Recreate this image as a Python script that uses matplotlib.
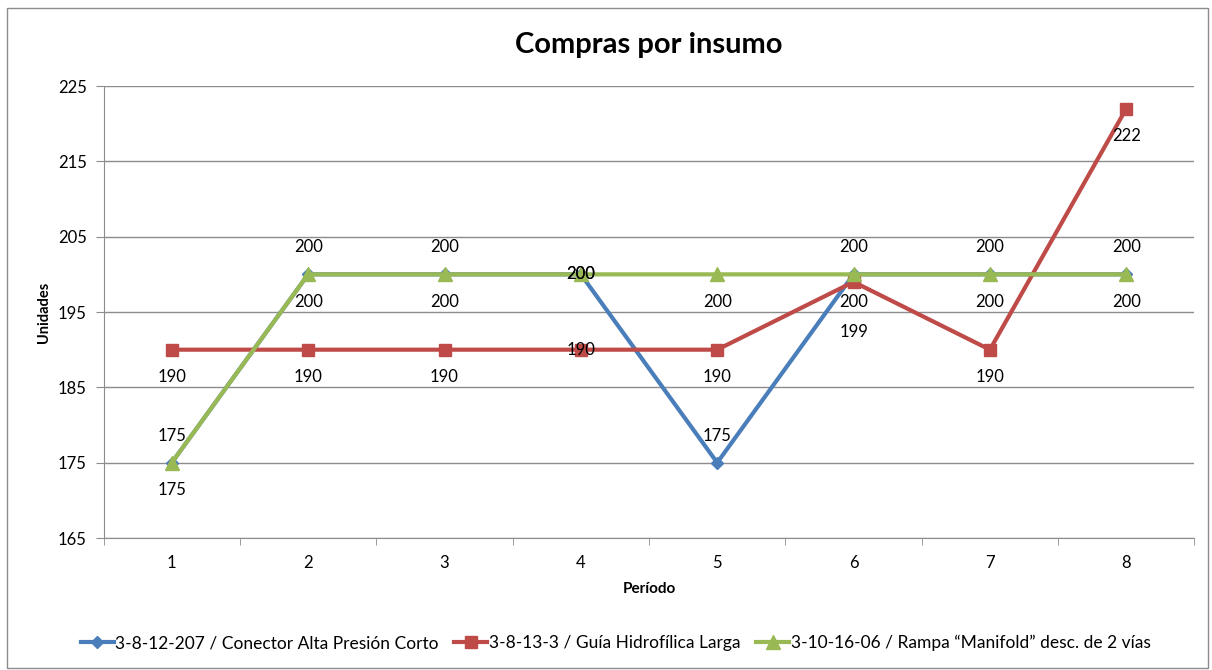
import matplotlib
matplotlib.use("Agg")
import matplotlib.pyplot as plt
from matplotlib.patches import Rectangle

plt.rcParams['font.family'] = ['Lato', 'DejaVu Sans']

periods = [1, 2, 3, 4, 5, 6, 7, 8]
blue_vals = [175, 200, 200, 200, 175, 200, 200, 200]
red_vals = [190, 190, 190, 190, 190, 199, 190, 222]
green_vals = [175, 200, 200, 200, 200, 200, 200, 200]
series_names = ["3-8-12-207 / Conector Alta Presión Corto",
                "3-8-13-3 / Guía Hidrofílica Larga",
                "3-10-16-06 / Rampa “Manifold” desc. de 2 vías"]
y_ticks = [165, 175, 185, 195, 205, 215, 225]

blue = "#4a7ebb"
red = "#be4b48"
green = "#98b954"

fig = plt.figure(figsize=(12.12, 6.70), dpi=100)
fig.patches.append(Rectangle((0.006, 0.003), 0.991, 0.985, transform=fig.transFigure,
                             fill=False, edgecolor="#8c8c8c", linewidth=1.0))
ax = fig.add_axes([0.0855, 0.197, 0.9, 0.6746])

ax.plot(periods, blue_vals, color=blue, lw=3, marker="D", ms=6, label=series_names[0], zorder=3)
ax.plot(periods, red_vals, color=red, lw=3, marker="s", ms=9, label=series_names[1], zorder=4)
ax.plot(periods, green_vals, color=green, lw=3, marker="^", ms=10, label=series_names[2], zorder=5)

fs = 12
for x, yb, yr, yg in zip(periods, blue_vals, red_vals, green_vals):
    if x == 4:
        for v in (yb, yg, yr):
            ax.annotate(str(v), (x, v), ha="center", va="center", fontsize=fs, zorder=6)
        continue
    ax.annotate(str(yb), (x, yb), xytext=(0, 19.5), textcoords="offset points",
                ha="center", va="center", fontsize=fs, zorder=6)
    ax.annotate(str(yg), (x, yg), xytext=(0, -20), textcoords="offset points",
                ha="center", va="center", fontsize=fs, zorder=6)
    red_off = -36 if x == 6 else -20
    ax.annotate(str(yr), (x, yr), xytext=(0, red_off), textcoords="offset points",
                ha="center", va="center", fontsize=fs, zorder=6)

ax.set_xlim(0.5, 8.5)
ax.set_ylim(165, 225)
ax.set_yticks(y_ticks)
ax.set_xticks(periods)
ax.set_xticks([p - 0.5 for p in periods] + [8.5], minor=True)
ax.tick_params(axis="x", which="major", length=0, pad=12, labelsize=12)
ax.tick_params(axis="x", which="minor", length=5, color="#8c8c8c")
ax.tick_params(axis="y", length=6, color="#8c8c8c", labelsize=12, pad=6)
ax.grid(axis="y", color="#8c8c8c", lw=1)
ax.set_axisbelow(True)
for s in ("top", "right"):
    ax.spines[s].set_visible(False)
for s in ("left", "bottom"):
    ax.spines[s].set_color("#8c8c8c")

ax.set_title("Compras por insumo", fontsize=21, fontweight="bold", pad=24)
ax.set_xlabel("Período", fontsize=11, fontweight="bold", labelpad=8)
ax.set_ylabel("Unidades", fontsize=10.5, fontweight="bold", labelpad=5)

fig.legend(loc="center", bbox_to_anchor=(0.508, 0.04), ncol=3, frameon=False,
           fontsize=12.5, handlelength=1.9, handletextpad=0.1, columnspacing=0.9)

fig.savefig("out.png", dpi=100)
